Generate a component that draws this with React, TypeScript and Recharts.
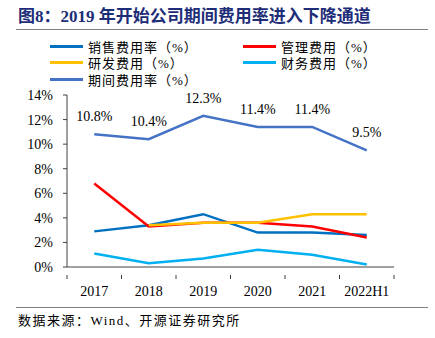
import React from 'react';
import { LineChart, Line, XAxis, YAxis, LabelList } from 'recharts';

const years = ['2017', '2018', '2019', '2020', '2021', '2022H1'];
const salesRate = [2.9, 3.4, 4.3, 2.8, 2.8, 2.6];
const mgmtRate = [6.8, 3.3, 3.6, 3.6, 3.3, 2.4];
const rdRate = [null, 3.4, 3.6, 3.6, 4.3, 4.3];
const financeRate = [1.1, 0.3, 0.7, 1.4, 1.0, 0.2];
const periodRate = [10.8, 10.4, 12.3, 11.4, 11.4, 9.5];
const yTicks = [0, 2, 4, 6, 8, 10, 12, 14];

const series = [
  { key: 'sales', name: '销售费用率（%）', color: '#0070C0' },
  { key: 'mgmt', name: '管理费用（%）', color: '#FF0000' },
  { key: 'rd', name: '研发费用（%）', color: '#FFC000' },
  { key: 'finance', name: '财务费用（%）', color: '#00B0F0' },
  { key: 'period', name: '期间费用率（%）', color: '#4472C4' },
];

const data = years.map((year, i) => ({
  year,
  sales: salesRate[i],
  mgmt: mgmtRate[i],
  rd: rdRate[i],
  finance: financeRate[i],
  period: periodRate[i],
}));

const W = 435;
const H = 338;
const margin = { top: 95, right: 41, bottom: 41, left: 7 };
const yAxisWidth = 60;
const bandWidth = (W - margin.left - margin.right - yAxisWidth) / years.length;

const serif = "'Liberation Serif', 'Times New Roman', 'Noto Sans CJK SC', serif";
const cjk = "'Liberation Serif', 'Noto Sans CJK SC', serif";

// category labels sit mid-band, tick marks on the band edges
const XTick = (props: any) => {
  const { x, y, payload, index } = props;
  const left = x - bandWidth / 2;
  return (
    <g>
      <line x1={left} y1={y} x2={left} y2={y + 4} stroke="#404040" />
      {index === years.length - 1 && (
        <line x1={x + bandWidth / 2} y1={y} x2={x + bandWidth / 2} y2={y + 4} stroke="#404040" />
      )}
      <text x={x} y={y + 21} textAnchor="middle" fontSize={14} fontFamily={serif} fill="#000">
        {payload.value}
      </text>
    </g>
  );
};

const legendPos = [
  { left: 50, top: 46 },
  { left: 243, top: 46 },
  { left: 50, top: 62 },
  { left: 243, top: 62 },
  { left: 50, top: 79 },
];

export default function App() {
  return (
    <div
      style={{
        position: 'absolute',
        left: 0,
        top: 0,
        width: W,
        height: H,
        background: '#fff',
        overflow: 'hidden',
      }}
    >
      <div
        style={{
          position: 'absolute',
          left: 18,
          top: 6,
          fontSize: 17,
          fontWeight: 'bold',
          color: '#1e2d78',
          fontFamily: cjk,
          whiteSpace: 'nowrap',
          lineHeight: '22px',
        }}
      >
        图8：2019 年开始公司期间费用率进入下降通道
      </div>
      <div style={{ position: 'absolute', left: 16, top: 29, width: 412, height: 1, background: '#7f7f7f' }} />

      {series.map((s, i) => (
        <div
          key={s.key}
          style={{
            position: 'absolute',
            left: legendPos[i].left,
            top: legendPos[i].top - 9,
            height: 18,
            display: 'flex',
            alignItems: 'center',
            whiteSpace: 'nowrap',
          }}
        >
          <div style={{ width: 33, height: 3, background: s.color, marginRight: 5 }} />
          <span style={{ fontSize: 13, fontFamily: cjk, color: '#000', letterSpacing: 1 }}>{s.name}</span>
        </div>
      ))}

      <div style={{ position: 'absolute', left: 0, top: 0 }}>
        <LineChart width={W} height={H} data={data} margin={margin}>
          <XAxis
            dataKey="year"
            height={30}
            padding={{ left: bandWidth / 2, right: bandWidth / 2 }}
            axisLine={{ stroke: '#404040' }}
            tickLine={false}
            tick={<XTick />}
            interval={0}
          />
          <YAxis
            width={yAxisWidth}
            domain={[0, 14]}
            ticks={yTicks}
            tickFormatter={(v: number) => `${v}%`}
            axisLine={{ stroke: '#404040' }}
            tickLine={{ stroke: '#404040' }}
            tickSize={4}
            tickMargin={10}
            tick={{ fontSize: 14, fontFamily: serif, fill: '#000' }}
            interval={0}
          />
          {series.map((s) => (
            <Line
              key={s.key}
              type="linear"
              dataKey={s.key}
              name={s.name}
              stroke={s.color}
              strokeWidth={2.5}
              dot={false}
              activeDot={false}
              isAnimationActive={false}
            >
              {s.key === 'period' && (
                <LabelList
                  dataKey="period"
                  position="top"
                  offset={13}
                  formatter={(v: any) => `${Number(v).toFixed(1)}%`}
                  style={{ fontSize: 14, fontFamily: serif, fill: '#000' }}
                />
              )}
            </Line>
          ))}
        </LineChart>
      </div>

      <div style={{ position: 'absolute', left: 16, top: 307, width: 412, height: 1, background: '#7f7f7f' }} />
      <div
        style={{
          position: 'absolute',
          left: 18,
          top: 312,
          fontSize: 13,
          fontFamily: cjk,
          color: '#000',
          whiteSpace: 'nowrap',
          letterSpacing: 1.5,
          lineHeight: '18px',
        }}
      >
        数据来源：Wind、开源证券研究所
      </div>
    </div>
  );
}
